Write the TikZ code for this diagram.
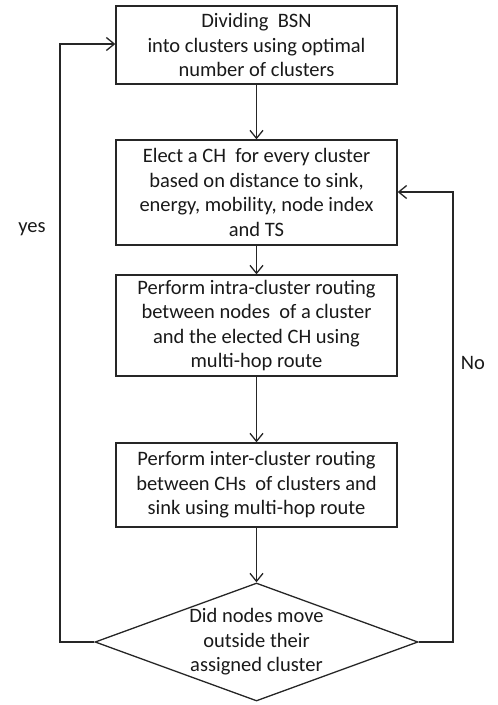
\documentclass[tikz,border=0pt]{standalone}
\usepackage{fontspec}
\setmainfont{Carlito}
\usetikzlibrary{arrows.meta,shapes.geometric}
\begin{document}
\begin{tikzpicture}[x=1pt,y=-1pt,
  every node/.style={font=\fontsize{20.5}{24.5}\selectfont, text=black!90},
  procbox/.style={draw=black!85, line width=1.3pt, minimum width=281pt, inner sep=0pt, align=center},
  conn/.style={draw=black!85, line width=1.3pt, -{Straight Barb[length=8pt,width=13pt]}},
  lbl/.style={inner sep=0pt}]
\useasboundingbox (0,0) rectangle (498,705);
\node[procbox, minimum height=78pt] (b1) at (256.5,45) {Dividing~~BSN\\into clusters using optimal\\number of clusters};
\node[procbox, minimum height=105pt] (b2) at (256.5,192.5) {Elect a CH~~for every cluster\\based on distance to sink,\\energy, mobility, node index\\and TS};
\node[procbox, minimum height=101pt] (b3) at (256.5,325.5) {Perform intra-cluster routing\\between nodes~~of a cluster\\and the elected CH using\\multi-hop route};
\node[procbox, minimum height=84pt] (b4) at (256.5,485) {Perform inter-cluster routing\\between CHs~~of clusters and\\sink using multi-hop route};
\node[draw=black!85, line width=1.3pt, diamond, aspect=2.74, minimum width=323pt, minimum height=118pt, inner sep=0pt] (dec) at (256.5,642) {};
\node[align=center, inner sep=0pt] (dect) at (256.5,642) {Did nodes move\\outside their\\assigned cluster};
\coordinate (lc) at (60,642);
\coordinate (rc) at (453,642);
\node[lbl] (yes) at (32,229) {yes};
\node[lbl] (no) at (473,363) {No};
\draw[conn] (b1) -- (b2);
\draw[conn] (b2) -- (b3);
\draw[conn] (b3) -- (b4);
\draw[conn] (b4) -- (dec.north);
\draw[conn] (dec.west) -- (lc) |- ([yshift=1pt]b1.west);
\draw[conn] (dec.east) -- (rc) |- ([yshift=0.5pt]b2.east);
\end{tikzpicture}
\end{document}
